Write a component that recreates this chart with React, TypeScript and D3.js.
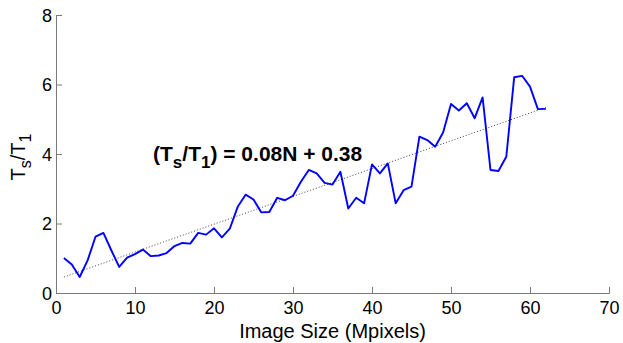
import React, { useRef, useEffect } from 'react'
import * as d3 from 'd3'

// image size in Mpixels (N) and speedup ratio Ts/T1
const sizes = [
  1, 2, 3, 4, 5, 6, 7, 8, 9, 10, 11, 12, 13, 14, 15, 16, 17, 18, 19, 20, 21,
  22, 23, 24, 25, 26, 27, 28, 29, 30, 31, 32, 33, 34, 35, 36, 37, 38, 39, 40,
  41, 42, 43, 44, 45, 46, 47, 48, 49, 50, 51, 52, 53, 54, 55, 56, 57, 58, 59,
  60, 61, 62,
]
const ratios = [
  1.01, 0.82, 0.46, 0.94, 1.62, 1.73, 1.23, 0.75, 1.02, 1.12, 1.25, 1.06,
  1.08, 1.15, 1.35, 1.44, 1.42, 1.73, 1.68, 1.86, 1.6, 1.85, 2.48, 2.83, 2.69,
  2.32, 2.33, 2.74, 2.67, 2.8, 3.2, 3.54, 3.44, 3.17, 3.12, 3.49, 2.43, 2.74,
  2.58, 3.7, 3.44, 3.73, 2.58, 2.96, 3.06, 4.5, 4.4, 4.21, 4.62, 5.44, 5.25,
  5.46, 5.03, 5.63, 3.54, 3.51, 3.92, 6.21, 6.25, 5.94, 5.29, 5.3,
]
const fitSlope = 0.08
const fitIntercept = 0.38
const xTicks = [0, 10, 20, 30, 40, 50, 60, 70]
const yTicks = [0, 2, 4, 6, 8]

const W = 623
const H = 343
const margin = { left: 56, right: 14, top: 15, bottom: 50 }
const font = 'Liberation Sans, Arial, Helvetica, sans-serif'

const App = () => {
  const svgRef = useRef<SVGSVGElement>(null)

  useEffect(() => {
    const svg = d3.select(svgRef.current)
    svg.selectAll('*').remove()

    const x = d3.scaleLinear().domain([0, 70]).range([margin.left, W - margin.right])
    const y = d3.scaleLinear().domain([0, 8]).range([H - margin.bottom, margin.top])

    // axes (MATLAB style: ticks inward, no box)
    const xAxis = d3.axisBottom(x).tickValues(xTicks).tickSize(-6).tickPadding(8)
    const gx = svg.append('g').attr('transform', `translate(0,${y(0)})`).call(xAxis)
    const yAxis = d3.axisLeft(y).tickValues(yTicks).tickSize(-6).tickPadding(4)
    const gy = svg.append('g').attr('transform', `translate(${x(0)},0)`).call(yAxis)

    ;[gx, gy].forEach((g) => {
      g.select('.domain').attr('stroke', '#7a7a7a').attr('stroke-width', 1)
      g.selectAll('.tick line').attr('stroke', '#7a7a7a')
      g.selectAll('.tick text')
        .attr('fill', '#000')
        .style('font-family', font)
        .style('font-size', '18px')
    })
    gy.selectAll('.tick text').attr('dy', '0.36em')

    // fit line
    const fit = d3.line<number>()
      .x((n) => x(n))
      .y((n) => y(fitSlope * n + fitIntercept))
    svg.append('path')
      .datum([sizes[0], sizes[sizes.length - 1]])
      .attr('d', fit)
      .attr('fill', 'none')
      .attr('stroke', '#444')
      .attr('stroke-width', 1)
      .attr('stroke-dasharray', '1,2')

    // data line
    const dataLine = d3.line<number>()
      .x((n) => x(n))
      .y((_, i) => y(ratios[i]))
    svg.append('path')
      .datum(sizes)
      .attr('d', dataLine)
      .attr('fill', 'none')
      .attr('stroke', '#0000ff')
      .attr('stroke-width', 1.9)
      .attr('stroke-linejoin', 'round')

    // equation
    const eq = svg.append('text')
      .attr('x', 153)
      .attr('y', 161)
      .style('font-family', font)
      .style('font-size', '21px')
      .style('font-weight', 'bold')
    eq.append('tspan').text('(T')
    eq.append('tspan').text('s').attr('dy', 7).style('font-size', '17px')
    eq.append('tspan').text('/T').attr('dy', -7)
    eq.append('tspan').text('1').attr('dy', 7).style('font-size', '17px')
    eq.append('tspan').text(`) = ${fitSlope.toFixed(2)}N + ${fitIntercept.toFixed(2)}`).attr('dy', -7)

    // x title
    svg.append('text')
      .attr('x', (x(0) + x(70)) / 2)
      .attr('y', 338)
      .attr('text-anchor', 'middle')
      .style('font-family', font)
      .style('font-size', '20px')
      .text('Image Size (Mpixels)')

    // y title
    const yt = svg.append('text')
      .attr('transform', `translate(25,${(y(0) + y(8)) / 2 + 3}) rotate(-90)`)
      .attr('text-anchor', 'middle')
      .style('font-family', font)
      .style('font-size', '20px')
    yt.append('tspan').text('T')
    yt.append('tspan').text('s').attr('dy', 6).style('font-size', '16px')
    yt.append('tspan').text('/T').attr('dy', -6)
    yt.append('tspan').text('1').attr('dy', 6).style('font-size', '16px')
  }, [])

  return (
    <svg
      ref={svgRef}
      width={W}
      height={H}
      style={{ position: 'absolute', left: 0, top: 0, background: '#fff' }}
    />
  )
}

export default App
